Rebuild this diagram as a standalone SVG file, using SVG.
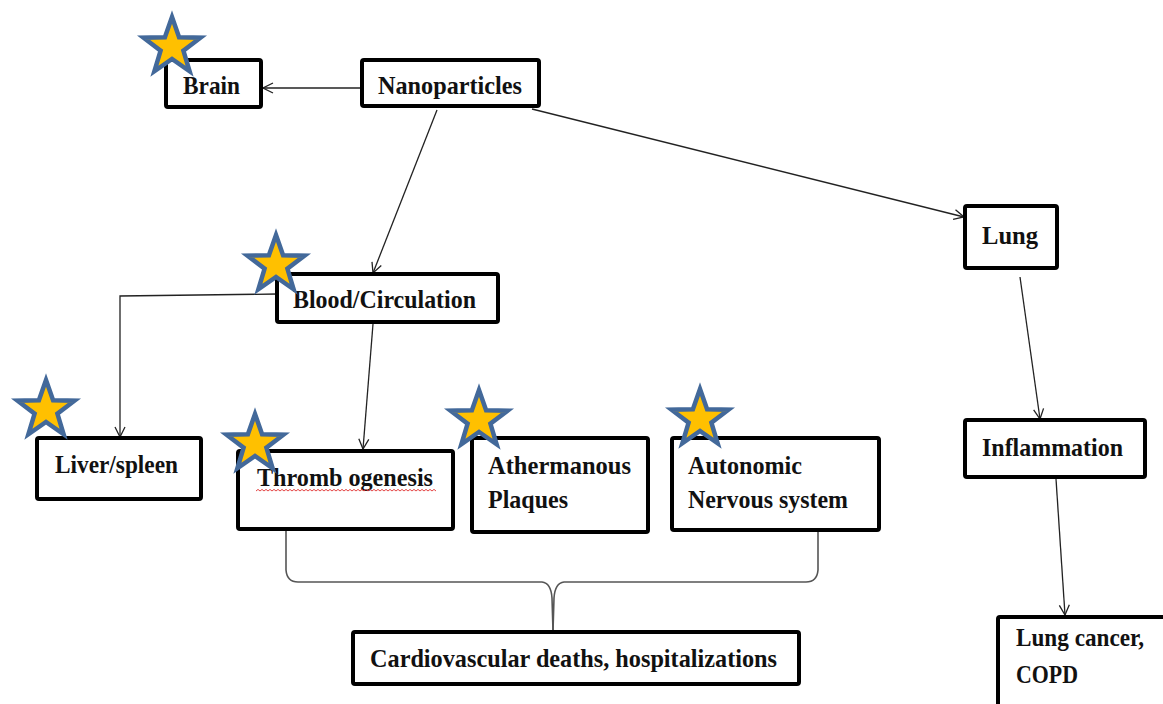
<svg xmlns="http://www.w3.org/2000/svg" width="1163" height="704" viewBox="0 0 1163 704">
  <style>
    .box { fill: #ffffff; stroke: #000000; stroke-width: 4; }
    .lbl { font-family: "Liberation Serif", "Times New Roman", serif; font-weight: bold; font-size: 26px; fill: #111111; }
    .edge { fill: none; stroke: #222222; stroke-width: 1.3; }
    .brace { fill: none; stroke: #555555; stroke-width: 1.6; }
    .star { fill: #FFC000; stroke: #43699A; stroke-width: 4.5; stroke-linejoin: miter; stroke-miterlimit: 10; }
  </style>
  <defs>
    <marker id="arrow" viewBox="0 0 12 12" refX="11" refY="6" markerWidth="12" markerHeight="12" markerUnits="userSpaceOnUse" orient="auto">
      <path d="M1,1 L11,6 L1,11" fill="none" stroke="#222222" stroke-width="1.3"/>
    </marker>
    <!-- five-pointed star, outer radius 30 -->
    <path id="starShape" class="star" d="M0,-30 L7.1,-9.7 L28.5,-9.3 L11.4,3.7 L17.6,24.3 L0,12 L-17.6,24.3 L-11.4,3.7 L-28.5,-9.3 L-7.1,-9.7 Z"/>
  </defs>

  <rect width="1163" height="704" fill="#ffffff"/>

  <!-- connectors -->
  <g id="connectors">
    <line class="edge" x1="362" y1="88" x2="263" y2="88" marker-end="url(#arrow)"/>
    <line class="edge" x1="437" y1="110" x2="373" y2="273" marker-end="url(#arrow)"/>
    <line class="edge" x1="532" y1="109" x2="964" y2="217" marker-end="url(#arrow)"/>
    <polyline class="edge" points="277,294 120,296 120,437" marker-end="url(#arrow)"/>
    <line class="edge" x1="373" y1="324" x2="363" y2="449" marker-end="url(#arrow)"/>
    <line class="edge" x1="1020" y1="277" x2="1040" y2="419" marker-end="url(#arrow)"/>
    <line class="edge" x1="1056" y1="479" x2="1065" y2="615" marker-end="url(#arrow)"/>
    <!-- curly brace joining the three cardiovascular boxes -->
    <path class="brace" d="M286,531 L286,570 Q287,582 298,582 L542,582 Q551,583 552,598 L553,631"/>
    <path class="brace" d="M818,531 L818,570 Q817,582 806,582 L564,582 Q555,583 554,598 L553,631"/>
  </g>

  <!-- nodes -->
  <g id="node-brain">
    <rect class="box" x="166" y="60" width="95" height="47" rx="2"/>
    <text class="lbl" x="183" y="94" textLength="57" lengthAdjust="spacingAndGlyphs">Brain</text>
  </g>
  <g id="node-nanoparticles">
    <rect class="box" x="362" y="60" width="177" height="46" rx="2"/>
    <text class="lbl" x="378" y="94" textLength="144" lengthAdjust="spacingAndGlyphs">Nanoparticles</text>
  </g>
  <g id="node-blood">
    <rect class="box" x="277" y="274" width="221" height="48" rx="2"/>
    <text class="lbl" x="293" y="308" textLength="183" lengthAdjust="spacingAndGlyphs">Blood/Circulation</text>
  </g>
  <g id="node-lung">
    <rect class="box" x="965" y="206" width="92" height="62" rx="2"/>
    <text class="lbl" x="982" y="244" textLength="56" lengthAdjust="spacingAndGlyphs">Lung</text>
  </g>
  <g id="node-inflammation">
    <rect class="box" x="965" y="420" width="180" height="57" rx="2"/>
    <text class="lbl" x="982" y="456" textLength="141" lengthAdjust="spacingAndGlyphs">Inflammation</text>
  </g>
  <g id="node-liver">
    <rect class="box" x="37" y="438" width="164" height="61" rx="2"/>
    <text class="lbl" x="55" y="473" textLength="123" lengthAdjust="spacingAndGlyphs">Liver/spleen</text>
  </g>
  <g id="node-thrombogenesis">
    <rect class="box" x="238" y="451" width="215" height="78" rx="2"/>
    <text class="lbl" x="257" y="486" textLength="176" lengthAdjust="spacingAndGlyphs">Thromb ogenesis</text>
    <!-- spell-check squiggle -->
    <path d="M256,491 l2,-1.6 l2,1.6 l2,-1.6 l2,1.6 l2,-1.6 l2,1.6 l2,-1.6 l2,1.6 l2,-1.6 l2,1.6 l2,-1.6 l2,1.6 l2,-1.6 l2,1.6 l2,-1.6 l2,1.6 l2,-1.6 l2,1.6 l2,-1.6 l2,1.6 l2,-1.6 l2,1.6 l2,-1.6 l2,1.6 l2,-1.6 l2,1.6 l2,-1.6 l2,1.6 l2,-1.6 l2,1.6 l2,-1.6 l2,1.6 l2,-1.6 l2,1.6 l2,-1.6 l2,1.6 l2,-1.6 l2,1.6 l2,-1.6 l2,1.6 l2,-1.6 l2,1.6 l2,-1.6 l2,1.6 l2,-1.6 l2,1.6 l2,-1.6 l2,1.6 l2,-1.6 l2,1.6 l2,-1.6 l2,1.6 l2,-1.6 l2,1.6 l2,-1.6 l2,1.6 l2,-1.6 l2,1.6 l2,-1.6 l2,1.6 l2,-1.6 l2,1.6 l2,-1.6 l2,1.6 l2,-1.6 l2,1.6 l2,-1.6 l2,1.6 l2,-1.6 l2,1.6 l2,-1.6 l2,1.6 l2,-1.6 l2,1.6 l2,-1.6 l2,1.6 l2,-1.6 l2,1.6 l2,-1.6 l2,1.6 l2,-1.6 l2,1.6 l2,-1.6 l2,1.6 l2,-1.6 l2,1.6 l2,-1.6 l2,1.6 l2,-1.6 l2,1.6" fill="none" stroke="#e03030" stroke-width="0.9"/>
  </g>
  <g id="node-athermanous">
    <rect class="box" x="472" y="438" width="176" height="94" rx="2"/>
    <text class="lbl" x="488" y="474" textLength="143" lengthAdjust="spacingAndGlyphs">Athermanous</text>
    <text class="lbl" x="488" y="508" textLength="80" lengthAdjust="spacingAndGlyphs">Plaques</text>
  </g>
  <g id="node-autonomic">
    <rect class="box" x="672" y="438" width="207" height="92" rx="2"/>
    <text class="lbl" x="688" y="474" textLength="114" lengthAdjust="spacingAndGlyphs">Autonomic</text>
    <text class="lbl" x="688" y="508" textLength="160" lengthAdjust="spacingAndGlyphs">Nervous system</text>
  </g>
  <g id="node-cardio">
    <rect class="box" x="353" y="632" width="446" height="52" rx="2"/>
    <text class="lbl" x="370" y="667" textLength="407" lengthAdjust="spacingAndGlyphs">Cardiovascular deaths, hospitalizations</text>
  </g>
  <g id="node-lungcancer">
    <rect class="box" x="998" y="617" width="200" height="120" rx="2"/>
    <text class="lbl" x="1016" y="646" textLength="128" lengthAdjust="spacingAndGlyphs">Lung cancer,</text>
    <text class="lbl" x="1016" y="683" textLength="62" lengthAdjust="spacingAndGlyphs">COPD</text>
  </g>

  <!-- stars marking affected sites -->
  <g id="stars">
    <use href="#starShape" x="172" y="47"/>
    <use href="#starShape" x="276" y="265"/>
    <use href="#starShape" x="46" y="410"/>
    <use href="#starShape" x="255" y="444"/>
    <use href="#starShape" x="479" y="420"/>
    <use href="#starShape" x="700" y="419"/>
  </g>
</svg>
